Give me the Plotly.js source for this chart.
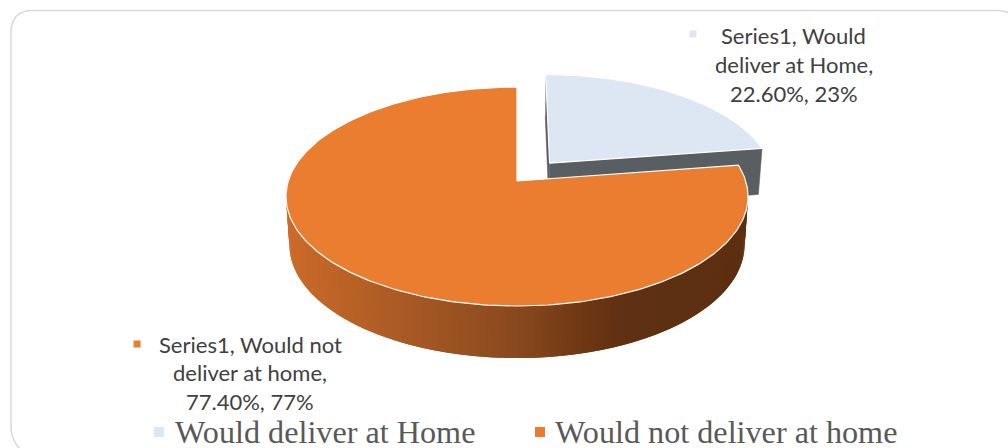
<!DOCTYPE html>
<html>
<head>
<meta charset="utf-8">
<script src="https://cdn.plot.ly/plotly-3.0.1.min.js"></script>
<style>html,body{margin:0;padding:0;background:#fff}#chart{width:1008px;height:448px}</style>
</head>
<body>
<div id="chart"></div>
<script>
// Delivery preference, drawn as a tilted 3D pie on pixel-sized axes.
const categories = ['Would deliver at Home', 'Would not deliver at home'];
const values = [22.60, 77.40];
const sliceColors = ['#DCE7F3', '#EB7D30'];
const wrappedNames = [['Series1, Would', 'deliver at Home,'], ['Series1, Would not', 'deliver at home,']];

// Projection of the pie plane (unit circle) onto the page.
const cx = 517, cy = 181, ax = 228.7, by = 107.3, persp = 0.1416;
const project = (u, v) => {
  const w = 1 - persp * v;
  return [cx + ax * u / w, cy + by * v / w];
};
// Same point on the lower rim of the disc.
const lower = (u, v) => {
  const [x, y] = project(u, v);
  return [cx + (x - cx) * 0.985, y + 47.5 + 4.5 * v];
};
const rad = d => d * Math.PI / 180;
const at = (deg, off, r) => [off[0] + r * Math.sin(rad(deg)), off[1] - r * Math.cos(rad(deg))];

const total = values.reduce((a, b) => a + b, 0);
const sweep = values.map(v => v / total * 360);
const midAngle = sweep[0] / 2;
const explode = 0.224;
const offsets = [[explode * Math.sin(rad(midAngle)), -explode * Math.cos(rad(midAngle))], [0, 0]];
const radii = [0.985, 1];

function poly(points, fill, line, width) {
  return {
    x: points.map(p => p[0]), y: points.map(p => p[1]),
    type: 'scatter', mode: 'lines', fill: 'toself', fillcolor: fill,
    line: {color: line, width: width}, hoverinfo: 'skip', showlegend: false
  };
}
function arcPoints(from, to, off, r, fn) {
  const pts = [], n = Math.ceil(Math.abs(to - from));
  for (let i = 0; i <= n; i++) {
    const [u, v] = at(from + (to - from) * i / n, off, r);
    pts.push(fn(u, v));
  }
  return pts;
}

// Side shading: light on the left, dark from about two thirds across.
const stops = [[288, [203, 107, 41]], [400, [170, 90, 36]], [517, [137, 73, 30]], [590, [108, 54, 19]], [625, [95, 48, 18]], [760, [93, 47, 17]]];
function shade(x) {
  for (let i = 1; i < stops.length; i++) {
    if (x <= stops[i][0]) {
      const t = Math.max(0, (x - stops[i - 1][0]) / (stops[i][0] - stops[i - 1][0]));
      const c = stops[i - 1][1].map((s, k) => Math.round(s + (stops[i][1][k] - s) * t));
      return 'rgb(' + c.join(',') + ')';
    }
  }
  return 'rgb(93,47,17)';
}

const traces = [];

// Pulled-out slice: walls first, then its top face.
const off0 = offsets[0];
const wallBlue = '#595E63';
const apex0 = project(off0[0], off0[1]), apex0Low = lower(off0[0], off0[1]);
const start0 = at(0, off0, radii[0]), end0 = at(sweep[0], off0, radii[0]);
traces.push(poly([project(...start0), apex0, apex0Low, lower(...start0)], wallBlue, wallBlue, 0.5));
traces.push(poly([apex0, project(...end0), lower(...end0), apex0Low], wallBlue, wallBlue, 0.5));
traces.push(poly([apex0].concat(arcPoints(0, sweep[0], off0, radii[0], project)).concat([apex0]), sliceColors[0], '#ffffff', 1.2));

// Front wall of the large slice. Each quad runs on under the next one,
// so no background shows through the joins.
const off1 = offsets[1];
const wallFrom = Math.max(sweep[0], 82), wallTo = 280;
for (let d = wallFrom; d < wallTo; d += 1) {
  const a = at(d, off1, radii[1]), b = at(d + 2, off1, radii[1]), m = at(d + 0.5, off1, radii[1]);
  const pa = project(...a), pb = project(...b), la = lower(...a), lb = lower(...b);
  const col = shade(project(...m)[0]);
  traces.push(poly([pa, pb, lb, la, pa], col, col, 0));
}

// Top face of the large slice.
const apex1 = project(0, 0);
traces.push(poly([apex1].concat(arcPoints(sweep[0], 360, off1, radii[1], project)).concat([apex1]), sliceColors[1], '#ffffff', 1.2));

// Legend keys and the small keys beside the data labels.
traces.push({
  x: [693, 137, 159, 540], y: [34, 344, 432, 432],
  type: 'scatter', mode: 'markers',
  marker: {symbol: 'square', size: [7, 7, 10, 10], opacity: 1, color: [sliceColors[0], sliceColors[1], sliceColors[0], sliceColors[1]], line: {width: 0}},
  hoverinfo: 'skip', showlegend: false
});

const labelFont = {family: 'Lato, "Open Sans", sans-serif', size: 22, color: '#404040'};
const legendFont = {family: '"Liberation Serif", serif', size: 32.2, color: '#595959'};
const pct = values.map(v => v.toFixed(2) + '%, ' + Math.round(v) + '%');
const txt = (x, y, text, font, xanchor) => ({x, y, text, font, xref: 'x', yref: 'y', xanchor, yanchor: 'middle', showarrow: false, align: 'center'});
const annotations = [
  txt(793.5, 35, wrappedNames[0][0], labelFont, 'center'),
  txt(793.5, 64, wrappedNames[0][1], labelFont, 'center'),
  txt(793.5, 93, pct[0], labelFont, 'center'),
  txt(250, 344, wrappedNames[1][0], labelFont, 'center'),
  txt(250, 372, wrappedNames[1][1], labelFont, 'center'),
  txt(250, 401, pct[1], labelFont, 'center'),
  txt(172.5, 431.5, categories[0], legendFont, 'left'),
  txt(552.5, 431.5, categories[1], legendFont, 'left')
];

const layout = {
  width: 1008, height: 448,
  margin: {l: 0, r: 0, t: 0, b: 0},
  paper_bgcolor: '#ffffff', plot_bgcolor: '#ffffff',
  showlegend: false,
  xaxis: {range: [0, 1008], visible: false, fixedrange: true},
  yaxis: {range: [448, 0], visible: false, fixedrange: true},
  annotations,
  shapes: [{
    type: 'path', layer: 'below', xref: 'x', yref: 'y',
    path: 'M 11 428 L 11 33 Q 11 10.5 33 10.5 L 998 10.5 Q 1006 10.5 1012 15 M 11 428 Q 11 440 21 450',
    line: {color: '#D9D9D9', width: 1.5}
  }]
};

Plotly.newPlot('chart', traces, layout, {displayModeBar: false, staticPlot: true});
</script>
</body>
</html>
